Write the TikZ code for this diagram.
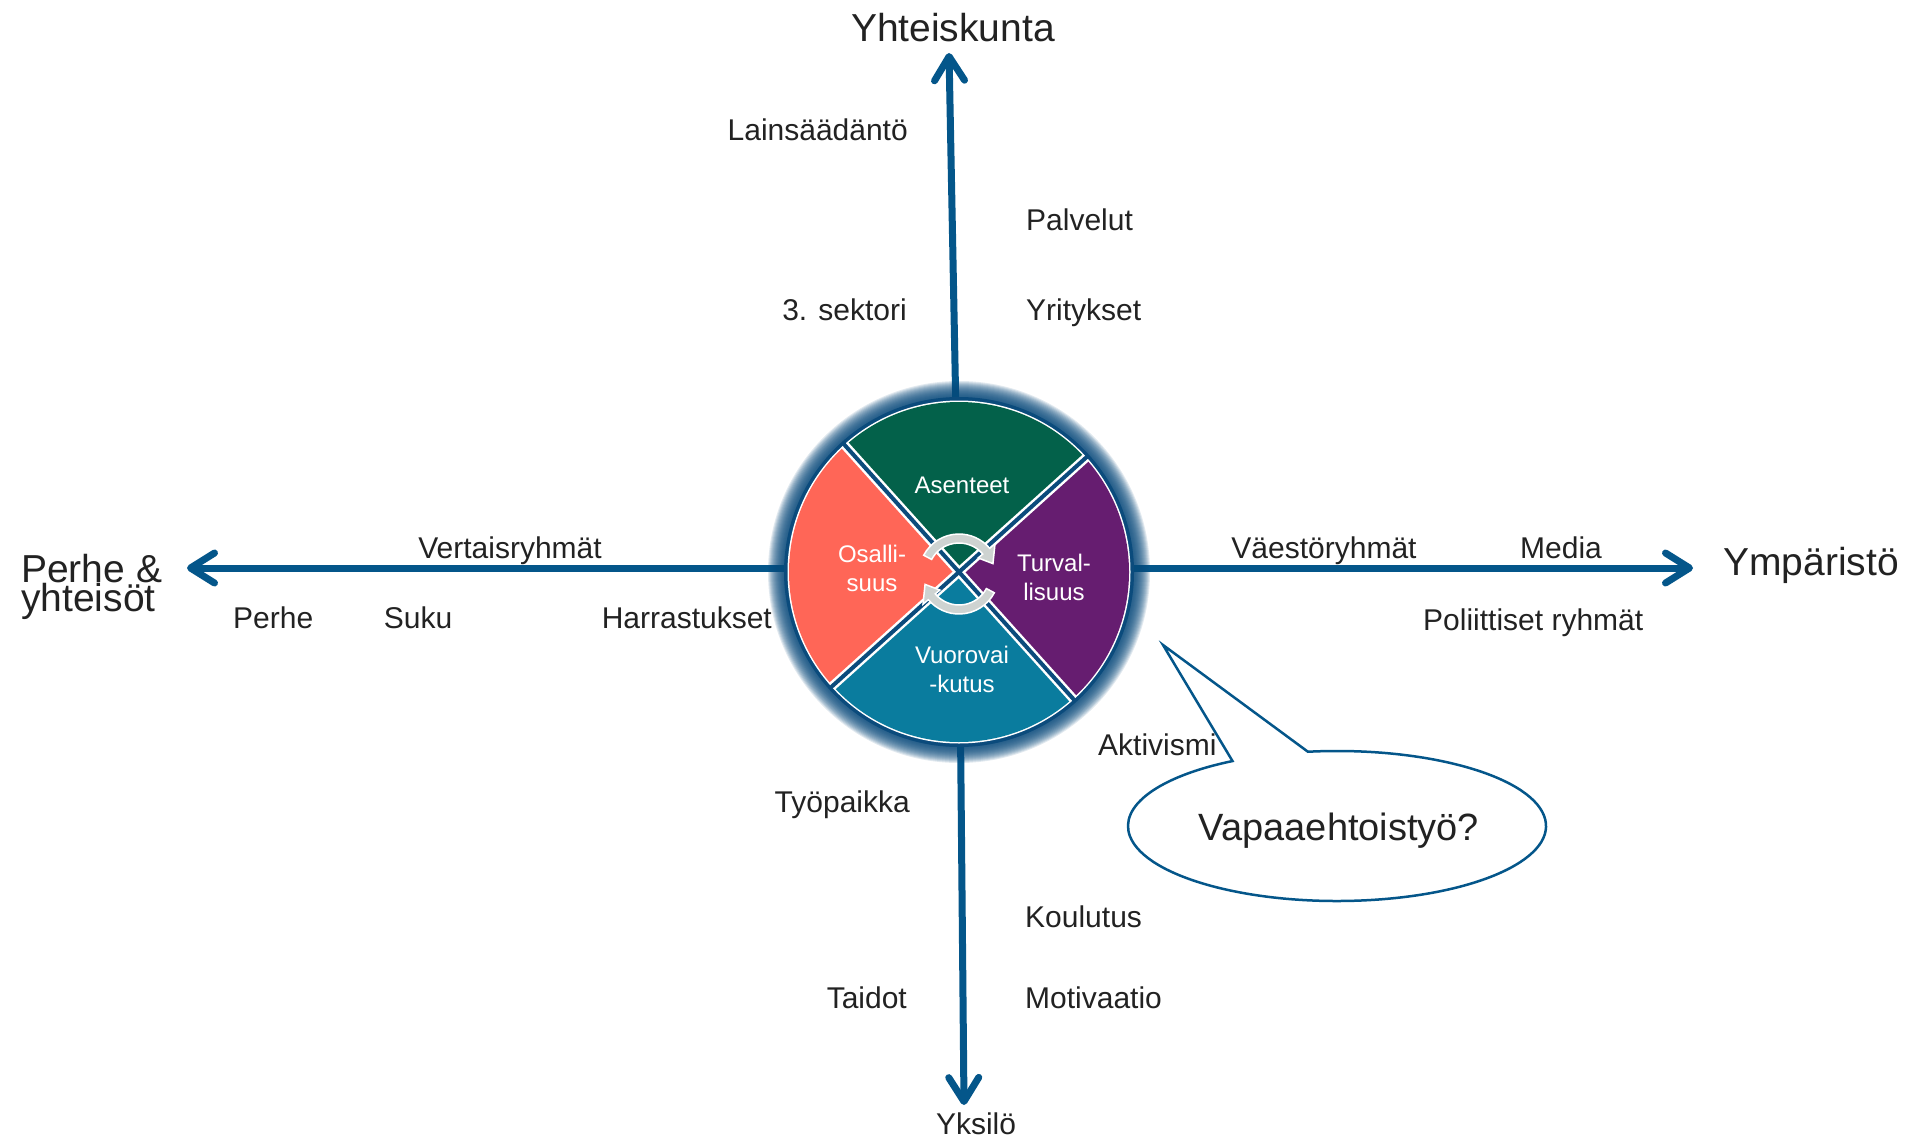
\documentclass[tikz,border=0pt]{standalone}
\usepackage{fontspec}
\setmainfont{Liberation Sans}
\usetikzlibrary{arrows.meta}
\definecolor{blu}{HTML}{04568A}
\definecolor{bordo}{HTML}{0B4B7C}
\definecolor{verde}{HTML}{03614A}
\definecolor{corallo}{HTML}{FF6657}
\definecolor{viola}{HTML}{661D70}
\definecolor{petrolio}{HTML}{0A7C9E}
\definecolor{grigio}{HTML}{CED3D1}
\definecolor{testo}{HTML}{222222}
\tikzset{
  asse/.style={line width=7pt, color=blu, -{Straight Barb[length=24pt,width=30pt,round]}},
  voce/.style={inner sep=0pt, text=testo, font=\fontsize{30}{32}\selectfont},
  polo/.style={inner sep=0pt, text=testo, font=\fontsize{39}{29}\selectfont},
  spicchio/.style={inner sep=0pt, text=white, align=center, font=\fontsize{24}{29}\selectfont},
}
\begin{document}
\begin{tikzpicture}[x=1pt,y=1pt]
		\useasboundingbox (0,0) rectangle (1913,-1137);
		\coordinate (c) at (959,-572);
		\coordinate (cic) at (959,-574);
		\coordinate (su) at (949,-53);
		\coordinate (giu) at (964,-1105);
		\coordinate (sx) at (187,-568);
		\coordinate (dx) at (1693,-568);
		
		%ASSI
		\draw[asse] (c) -- (su);
		\draw[asse] (c) -- (giu);
		\draw[asse] (c |- sx) -- (sx);
		\draw[asse] (c |- dx) -- (dx);
		
		%POLI
		\node[polo, anchor=base] (yhteiskunta) at (953,-42) {Yhteiskunta};
		\node[polo, anchor=base west] (ymparisto) at (1723,-575) {Ympäristö};
		\node[polo, anchor=north west, align=left] (perhe) at (21,-554) {Perhe \&\\yhteisöt};
		\node[voce, anchor=base] (yksilo) at (976,-1134) {Yksilö};
		
		%VOCI
		\node[voce, anchor=base east] (lainsaadanto) at (908,-140) {Lainsäädäntö};
		\node[voce, anchor=base west] (palvelut) at (1026,-230) {Palvelut};
		\node[voce, anchor=base east] (sektori) at (907,-320) {3. sektori};
		\node[voce, anchor=base west] (yritykset) at (1026,-320) {Yritykset};
		\node[voce, anchor=base] (vertaisryhmat) at (510,-558) {Vertaisryhmät};
		\node[voce, anchor=base west] (perhe2) at (233,-628) {Perhe};
		\node[voce, anchor=base] (suku) at (418,-628) {Suku};
		\node[voce, anchor=base east] (harrastukset) at (772,-628) {Harrastukset};
		\node[voce, anchor=base] (vaestoryhmat) at (1324,-558) {Väestöryhmät};
		\node[voce, anchor=base west] (media) at (1520,-558) {Media};
		\node[voce, anchor=base west] (poliittiset) at (1423,-630) {Poliittiset ryhmät};
		\node[voce, anchor=base west] (aktivismi) at (1098,-755) {Aktivismi};
		\node[voce, anchor=base east] (tyopaikka) at (910,-812) {Työpaikka};
		\node[voce, anchor=base west] (koulutus) at (1025,-927) {Koulutus};
		\node[voce, anchor=base east] (taidot) at (907,-1008) {Taidot};
		\node[voce, anchor=base west] (motivaatio) at (1025,-1008) {Motivaatio};
		
		%CERCHIO
		\foreach \r in {191,190,...,173}
			\fill[bordo, opacity=0.12] (c) circle[radius=\r pt];
		\fill[bordo] (c) circle[radius=175pt];
		\fill[white] (c) circle[radius=171.5pt];
		\fill[verde] (c) -- ++(42:170pt) arc[start angle=42, end angle=132, radius=170pt] -- cycle;
		\fill[corallo] (c) -- ++(132:170pt) arc[start angle=132, end angle=222, radius=170pt] -- cycle;
		\fill[petrolio] (c) -- ++(222:170pt) arc[start angle=222, end angle=312, radius=170pt] -- cycle;
		\fill[viola] (c) -- ++(312:170pt) arc[start angle=312, end angle=402, radius=170pt] -- cycle;
		\foreach \a in {42,132,222,312}
			\draw[white, line width=9pt] (c) -- ++(\a:171pt);
		\foreach \a in {42,132,222,312}
			\draw[bordo, line width=4pt] (c) -- ++(\a:174pt);
		
		%FRECCE CICLO
		\fill[grigio, draw=white, line width=1.5pt] ([shift={(cic)}]152:40pt) arc[start angle=152, end angle=40, radius=40pt]
			-- ([shift={(cic)}]40:47pt) -- ([shift={(cic)}]17:35.5pt) -- ([shift={(cic)}]40:25pt)
			-- ([shift={(cic)}]40:31pt) arc[start angle=40, end angle=152, radius=31pt] -- cycle;
		\fill[grigio, draw=white, line width=1.5pt] ([shift={(cic)}]-28:40pt) arc[start angle=-28, end angle=-140, radius=40pt]
			-- ([shift={(cic)}]220:47pt) -- ([shift={(cic)}]197:35.5pt) -- ([shift={(cic)}]220:25pt)
			-- ([shift={(cic)}]220:31pt) arc[start angle=-140, end angle=-28, radius=31pt] -- cycle;
		
		%SPICCHI
		\node[spicchio, anchor=base] (asenteet) at (962,-493) {Asenteet};
		\node[spicchio, anchor=north] (osallisuus) at (872,-544.5) {Osalli-\\suus};
		\node[spicchio, anchor=north] (turvallisuus) at (1054,-553.5) {Turval-\\lisuus};
		\node[spicchio, anchor=north] (vuorovaikutus) at (962,-645.5) {Vuorovai\\-kutus};
		
		%NUVOLETTA
		\coordinate (bub) at (1337,-826);
		\coordinate (punta) at (1163,-645);
		\draw[blu, line width=2.5pt, fill=white] ([shift={(bub)}]120:209pt and 75pt) -- (punta)
			-- ([shift={(bub)}]98:209pt and 75pt) arc[start angle=98, end angle=-240, x radius=209pt, y radius=75pt] -- cycle;
		\node[inner sep=0pt, text=testo, font=\fontsize{38}{40}\selectfont, anchor=base] (vapaa) at (1339,-840) {Vapaaehtoistyö?};
	\end{tikzpicture}
\end{document}
